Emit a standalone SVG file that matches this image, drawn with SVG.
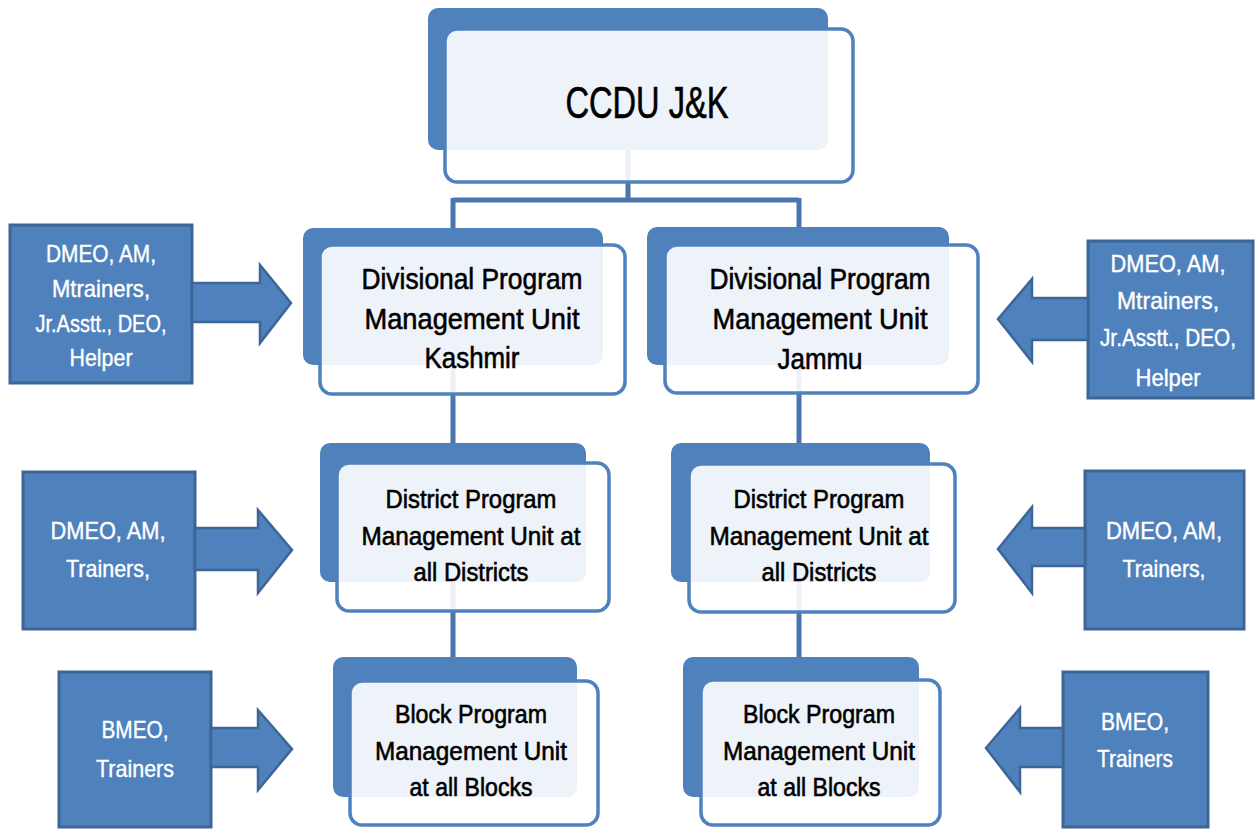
<svg xmlns="http://www.w3.org/2000/svg" width="1256" height="829" viewBox="0 0 1256 829">
<style>
.bg{fill:#ffffff}
.back{fill:#4f81bd}
.front{fill:#ffffff;fill-opacity:0.9;stroke:#4f81bd;stroke-width:3.5}
.box{fill:#4f81bd;stroke:#3d6596;stroke-width:3}
.arrow{fill:#4f81bd;stroke:#3d6596;stroke-width:2.5;stroke-linejoin:miter}
.conn{fill:none;stroke:#4a76ad;stroke-width:5}
.nt{font-family:"Liberation Sans",Arial,sans-serif;fill:#000000;stroke:#000000;stroke-width:0.6;text-anchor:middle}
.st{font-family:"Liberation Sans",Arial,sans-serif;fill:#ffffff;stroke:#ffffff;stroke-width:0.4;text-anchor:middle;font-size:24px}
.f30{font-size:30px}
.f26{font-size:26px}
</style>
<rect class="bg" x="0" y="0" width="1256" height="829"/>
<g id="connectors">
<path class="conn" d="M628,150 V200 M453,200 H799 M453,198 V657 M799,198 V657"/>
</g>
<g id="node-ccdu">
<rect class="back" x="428" y="8" width="400" height="142" rx="10"/>
<rect class="front" x="445" y="29" width="408" height="153" rx="12"/>
<text class="nt" x="647" y="118" font-size="44" textLength="163" lengthAdjust="spacingAndGlyphs">CCDU J&amp;K</text>
</g>
<g id="node-div-kashmir">
<rect class="back" x="303" y="228" width="300" height="137" rx="10"/>
<rect class="front" x="320" y="245" width="305" height="149" rx="12"/>
<text class="nt f30" x="472" y="289" textLength="221" lengthAdjust="spacingAndGlyphs">Divisional Program</text>
<text class="nt f30" x="472" y="329" textLength="215" lengthAdjust="spacingAndGlyphs">Management Unit</text>
<text class="nt f30" x="472" y="368" textLength="95" lengthAdjust="spacingAndGlyphs">Kashmir</text>
</g>
<g id="node-div-jammu">
<rect class="back" x="647" y="227" width="302" height="138" rx="10"/>
<rect class="front" x="665" y="245" width="313" height="148" rx="12"/>
<text class="nt f30" x="820" y="289" textLength="221" lengthAdjust="spacingAndGlyphs">Divisional Program</text>
<text class="nt f30" x="820" y="329" textLength="215" lengthAdjust="spacingAndGlyphs">Management Unit</text>
<text class="nt f30" x="820" y="369" textLength="85" lengthAdjust="spacingAndGlyphs">Jammu</text>
</g>
<g id="node-dist-kashmir">
<rect class="back" x="320" y="443" width="266" height="139" rx="10"/>
<rect class="front" x="337" y="463" width="272" height="148" rx="12"/>
<text class="nt f26" x="471" y="508" textLength="171" lengthAdjust="spacingAndGlyphs">District Program</text>
<text class="nt f26" x="471" y="545" textLength="219" lengthAdjust="spacingAndGlyphs">Management Unit at</text>
<text class="nt f26" x="471" y="581" textLength="115" lengthAdjust="spacingAndGlyphs">all Districts</text>
</g>
<g id="node-dist-jammu">
<rect class="back" x="671" y="443" width="259" height="139" rx="10"/>
<rect class="front" x="689" y="464" width="266" height="148" rx="12"/>
<text class="nt f26" x="819" y="508" textLength="171" lengthAdjust="spacingAndGlyphs">District Program</text>
<text class="nt f26" x="819" y="545" textLength="219" lengthAdjust="spacingAndGlyphs">Management Unit at</text>
<text class="nt f26" x="819" y="581" textLength="115" lengthAdjust="spacingAndGlyphs">all Districts</text>
</g>
<g id="node-block-kashmir">
<rect class="back" x="333" y="657" width="244" height="140" rx="10"/>
<rect class="front" x="350" y="681" width="248" height="144" rx="12"/>
<text class="nt f26" x="471" y="723" textLength="152" lengthAdjust="spacingAndGlyphs">Block Program</text>
<text class="nt f26" x="471" y="760" textLength="192" lengthAdjust="spacingAndGlyphs">Management Unit</text>
<text class="nt f26" x="471" y="796" textLength="123" lengthAdjust="spacingAndGlyphs">at all Blocks</text>
</g>
<g id="node-block-jammu">
<rect class="back" x="683" y="657" width="236" height="140" rx="10"/>
<rect class="front" x="701" y="680" width="239" height="145" rx="12"/>
<text class="nt f26" x="819" y="723" textLength="152" lengthAdjust="spacingAndGlyphs">Block Program</text>
<text class="nt f26" x="819" y="760" textLength="192" lengthAdjust="spacingAndGlyphs">Management Unit</text>
<text class="nt f26" x="819" y="796" textLength="123" lengthAdjust="spacingAndGlyphs">at all Blocks</text>
</g>
<g id="staff-div-kashmir">
<rect class="box" x="10" y="225" width="182" height="158"/>
<polygon class="arrow" points="192,283 260,283 260,265 291,303 260,343 260,322 192,322"/>
<text class="st" x="101" y="262" textLength="110" lengthAdjust="spacingAndGlyphs">DMEO, AM,</text>
<text class="st" x="101" y="297" textLength="98" lengthAdjust="spacingAndGlyphs">Mtrainers,</text>
<text class="st" x="101" y="332" textLength="131" lengthAdjust="spacingAndGlyphs">Jr.Asstt., DEO,</text>
<text class="st" x="101" y="366" textLength="63" lengthAdjust="spacingAndGlyphs">Helper</text>
</g>
<g id="staff-div-jammu">
<rect class="box" x="1088" y="241" width="165" height="157"/>
<polygon class="arrow" points="1088,298 1032,298 1032,279 998,319 1032,362 1032,340 1088,340"/>
<text class="st" x="1168" y="272" textLength="115" lengthAdjust="spacingAndGlyphs">DMEO, AM,</text>
<text class="st" x="1168" y="309" textLength="102" lengthAdjust="spacingAndGlyphs">Mtrainers,</text>
<text class="st" x="1168" y="346" textLength="136" lengthAdjust="spacingAndGlyphs">Jr.Asstt., DEO,</text>
<text class="st" x="1168" y="386" textLength="65" lengthAdjust="spacingAndGlyphs">Helper</text>
</g>
<g id="staff-dist-kashmir">
<rect class="box" x="23" y="472" width="172" height="157"/>
<polygon class="arrow" points="195,528 258,528 258,510 292,550 258,593 258,570 195,570"/>
<text class="st" x="108" y="539" textLength="115" lengthAdjust="spacingAndGlyphs">DMEO, AM,</text>
<text class="st" x="108" y="577" textLength="84" lengthAdjust="spacingAndGlyphs">Trainers,</text>
</g>
<g id="staff-dist-jammu">
<rect class="box" x="1085" y="471" width="159" height="158"/>
<polygon class="arrow" points="1085,528 1032,528 1032,507 998,549 1032,593 1032,566 1085,566"/>
<text class="st" x="1164" y="539" textLength="116" lengthAdjust="spacingAndGlyphs">DMEO, AM,</text>
<text class="st" x="1164" y="577" textLength="83" lengthAdjust="spacingAndGlyphs">Trainers,</text>
</g>
<g id="staff-block-kashmir">
<rect class="box" x="59" y="672" width="152" height="155"/>
<polygon class="arrow" points="211,728 258,728 258,710 292,749 258,790 258,767 211,767"/>
<text class="st" x="135" y="738" textLength="67" lengthAdjust="spacingAndGlyphs">BMEO,</text>
<text class="st" x="135" y="777" textLength="78" lengthAdjust="spacingAndGlyphs">Trainers</text>
</g>
<g id="staff-block-jammu">
<rect class="box" x="1063" y="672" width="145" height="155"/>
<polygon class="arrow" points="1063,728 1020,728 1020,708 986,748 1020,792 1020,767 1063,767"/>
<text class="st" x="1135" y="730" textLength="68" lengthAdjust="spacingAndGlyphs">BMEO,</text>
<text class="st" x="1135" y="767" textLength="76" lengthAdjust="spacingAndGlyphs">Trainers</text>
</g>
</svg>
